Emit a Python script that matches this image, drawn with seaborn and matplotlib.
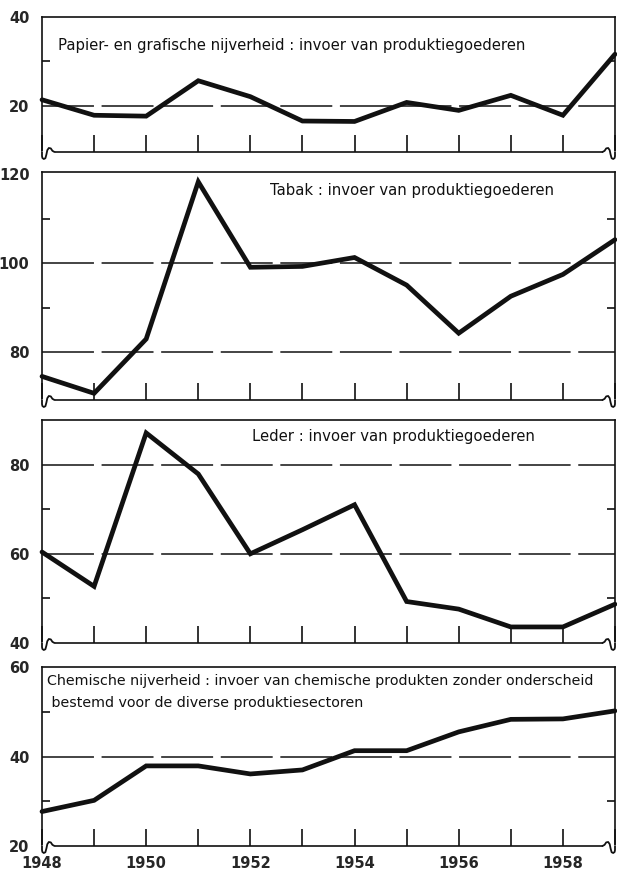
import numpy as np
import pandas as pd
import matplotlib
matplotlib.use("Agg")
import matplotlib.pyplot as plt
import matplotlib.transforms as mtransforms
from matplotlib.lines import Line2D
import seaborn as sns

years = list(range(1948, 1960))

papier = [21.3, 17.8, 17.6, 25.6, 22.0, 16.5, 16.4, 20.7, 18.9, 22.3, 17.8, 31.6]
tabak = [74.6, 70.8, 83.0, 118.3, 99.1, 99.3, 101.3, 95.1, 84.3, 92.6, 97.5, 105.3]
leder = [60.4, 52.7, 87.1, 77.9, 60.0, 65.4, 71.0, 49.3, 47.6, 43.6, 43.6, 48.7]
chemie = [27.7, 30.2, 37.9, 37.9, 36.1, 37.0, 41.3, 41.3, 45.5, 48.3, 48.4, 50.2]

titles = [
    "Papier- en grafische nijverheid : invoer van produktiegoederen",
    "Tabak : invoer van produktiegoederen",
    "Leder : invoer van produktiegoederen",
    "Chemische nijverheid : invoer van chemische produkten zonder onderscheid\n bestemd voor de diverse produktiesectoren",
]
major_ticks = [[20, 40], [80, 100, 120], [40, 60, 80], [20, 40, 60]]
minor_ticks = [[30], [90, 110], [50, 70], [30, 50]]
grid_vals = [[20], [80, 100], [60, 80], [40]]
ylims = [(9.5, 40), (69.3, 120.5), (40, 90), (20, 60)]
xlabels = ["1948", "", "1950", "", "1952", "", "1954", "", "1956", "", "1958", ""]

sns.set_theme(style="white")
plt.rcParams["font.family"] = ["DejaVu Sans"]

fig = plt.figure(figsize=(6.17, 8.72), dpi=100)
W, H = 617.0, 872.0
left, right = 42, 615
boxes = [(17, 152), (172, 400), (420, 643), (667, 846)]
title_pos = [(0.028, 0.79, 10.7), (0.398, 0.917, 10.7), (0.366, 0.924, 10.7), (0.008, 0.86, 10.3)]

series = [papier, tabak, leder, chemie]
ink = "#111111"

for i, (top, bot) in enumerate(boxes):
    ax = fig.add_axes([left / W, 1 - bot / H, (right - left) / W, (bot - top) / H])
    df = pd.DataFrame({"jaar": years, "waarde": series[i]})
    for g in grid_vals[i]:
        ax.axhline(g, color=ink, lw=1.1, ls=(0, (34, 5)), zorder=1)
    sns.lineplot(data=df, x="jaar", y="waarde", ax=ax, color=ink, lw=3.4,
                 solid_joinstyle="miter", clip_on=False, zorder=3)
    ax.set_xlim(1948, 1959)
    ax.set_ylim(*ylims[i])
    ax.set_xlabel("")
    ax.set_ylabel("")
    ax.set_yticks(major_ticks[i])
    ax.set_yticklabels([str(v) for v in major_ticks[i]], fontsize=10.5, fontweight="bold")
    ax.set_yticks(minor_ticks[i], minor=True)
    ax.tick_params(axis="y", which="major", length=0, pad=9)
    ax.tick_params(axis="y", which="minor", direction="in", length=6, width=1.2,
                   left=True, right=True, color=ink)
    ax.set_xticks(years)
    if i == 3:
        ax.set_xticklabels(xlabels, fontsize=10.5, fontweight="bold")
    else:
        ax.set_xticklabels([])
    ax.tick_params(axis="x", which="major", direction="in", length=12, width=1.2,
                   bottom=True, color=ink, pad=7)
    for s in ["top", "left", "right"]:
        ax.spines[s].set_color(ink)
        ax.spines[s].set_linewidth(1.2)
        ax.spines[s].set_visible(True)
    ax.spines["bottom"].set_visible(False)

    # bottom line with wave breaks at the corners (pixel offsets)
    wave = [(0, 0), (0, -4), (0.4, -6.0), (1.8, -7.0), (3.4, -6.2), (4.4, -2.5),
            (5.3, 1.8), (6.8, 4.0), (8.8, 3.6), (10.4, 1.2), (12.5, 0)]
    ax.plot([0, 1], [0, 0], transform=ax.transAxes, color=ink, lw=1.2, clip_on=False,
            solid_capstyle="butt")
    for corner, sgn in ((0.0, 1), (1.0, -1)):
        tr = fig.dpi_scale_trans + mtransforms.ScaledTranslation(corner, 0, ax.transAxes)
        ax.add_line(Line2D([0.3 * sgn / 100, 11.5 * sgn / 100], [0, 0], transform=tr,
                           color="white", lw=2.2, clip_on=False, zorder=4))
        xs = [sgn * p[0] / 100 for p in wave]
        ys = [p[1] / 100 for p in wave]
        ax.add_line(Line2D(xs, ys, transform=tr, color=ink, lw=1.3, clip_on=False, zorder=5))

    tx, ty, fs = title_pos[i]
    ax.text(tx, ty, titles[i], transform=ax.transAxes, ha="left", va="center",
            fontsize=fs, color=ink, linespacing=1.65)

fig.savefig("out.png", dpi=100, facecolor="white")
